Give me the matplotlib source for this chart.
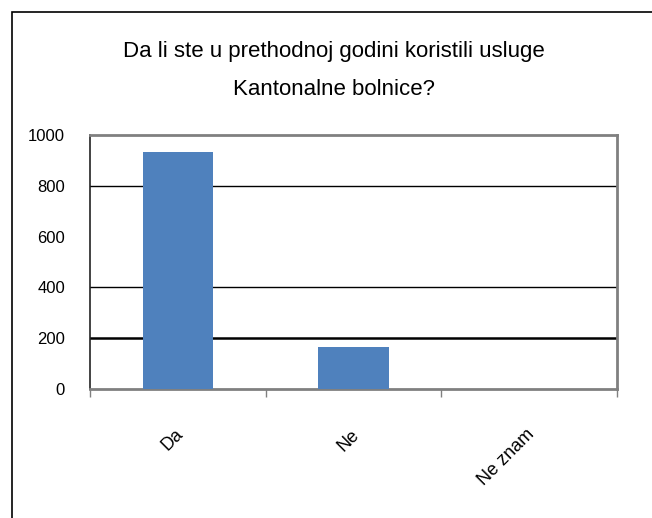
import numpy as np
import matplotlib.pyplot as plt
from matplotlib.patches import Rectangle

plt.rcParams['font.family'] = ['Liberation Sans', 'DejaVu Sans']

# Podaci
kategorije = ['Da', 'Ne', 'Ne znam']
vrijednosti = [932, 165, 0]
y_oznake = [0, 200, 400, 600, 800, 1000]
naslov_1 = 'Da li ste u prethodnoj godini koristili usluge'
naslov_2 = 'Kantonalne bolnice?'

W, H = 652, 518
fig = plt.figure(figsize=(W / 100, H / 100), dpi=100)

# okvir slike (odsjecen desno i dolje)
fig.patches.append(Rectangle((11.5 / W, -0.05), 1.1, 1 - 11.5 / H + 0.05,
                             transform=fig.transFigure, fill=False,
                             edgecolor='black', linewidth=1.2))

ax = fig.add_axes([90 / W, 1 - 389 / H, (617 - 90) / W, (389 - 135) / H])

x = np.arange(len(kategorije))
ax.bar(x, vrijednosti, width=0.4, color='#4F81BD', zorder=3)

ax.set_xlim(-0.5, len(kategorije) - 0.5)
ax.set_ylim(0, 1000)

# mreza
for v, lw in [(800, 1.0), (400, 1.0), (200, 1.8)]:
    ax.axhline(v, color='black', linewidth=lw, zorder=2)

for s in ['top', 'right', 'bottom']:
    ax.spines[s].set_color('#808080')
    ax.spines[s].set_linewidth(2)
ax.spines['left'].set_color('#222222')
ax.spines['left'].set_linewidth(1.2)

ax.set_yticks(y_oznake)
ax.set_yticklabels([str(v) for v in y_oznake], fontsize=12)
ax.tick_params(axis='y', length=0, pad=18)
ax.set_yticks([0, 1000], minor=True)
ax.tick_params(axis='y', which='minor', length=6, width=1.2, color='black')

ax.set_xticks(x)
ax.set_xticklabels([])
ax.tick_params(axis='x', which='major', length=0)
ax.set_xticks(np.append(x - 0.5, x[-1] + 0.5), minor=True)
ax.tick_params(axis='x', which='minor', length=6, width=1, color='#808080')

# oznake kategorija pod uglom
for xi, k in zip(x, kategorije):
    ax.annotate(k, xy=(xi, 0), xycoords='data',
                xytext=(-3 * 0.72, -37 * 0.72), textcoords='offset points',
                rotation=45, ha='right', va='top', rotation_mode='anchor',
                fontsize=13)

fig.text(334 / W, 1 - 57 / H, naslov_1, ha='center', va='baseline', fontsize=16)
fig.text(334 / W, 1 - 95 / H, naslov_2, ha='center', va='baseline', fontsize=16)

fig.savefig('out.png', dpi=100)
